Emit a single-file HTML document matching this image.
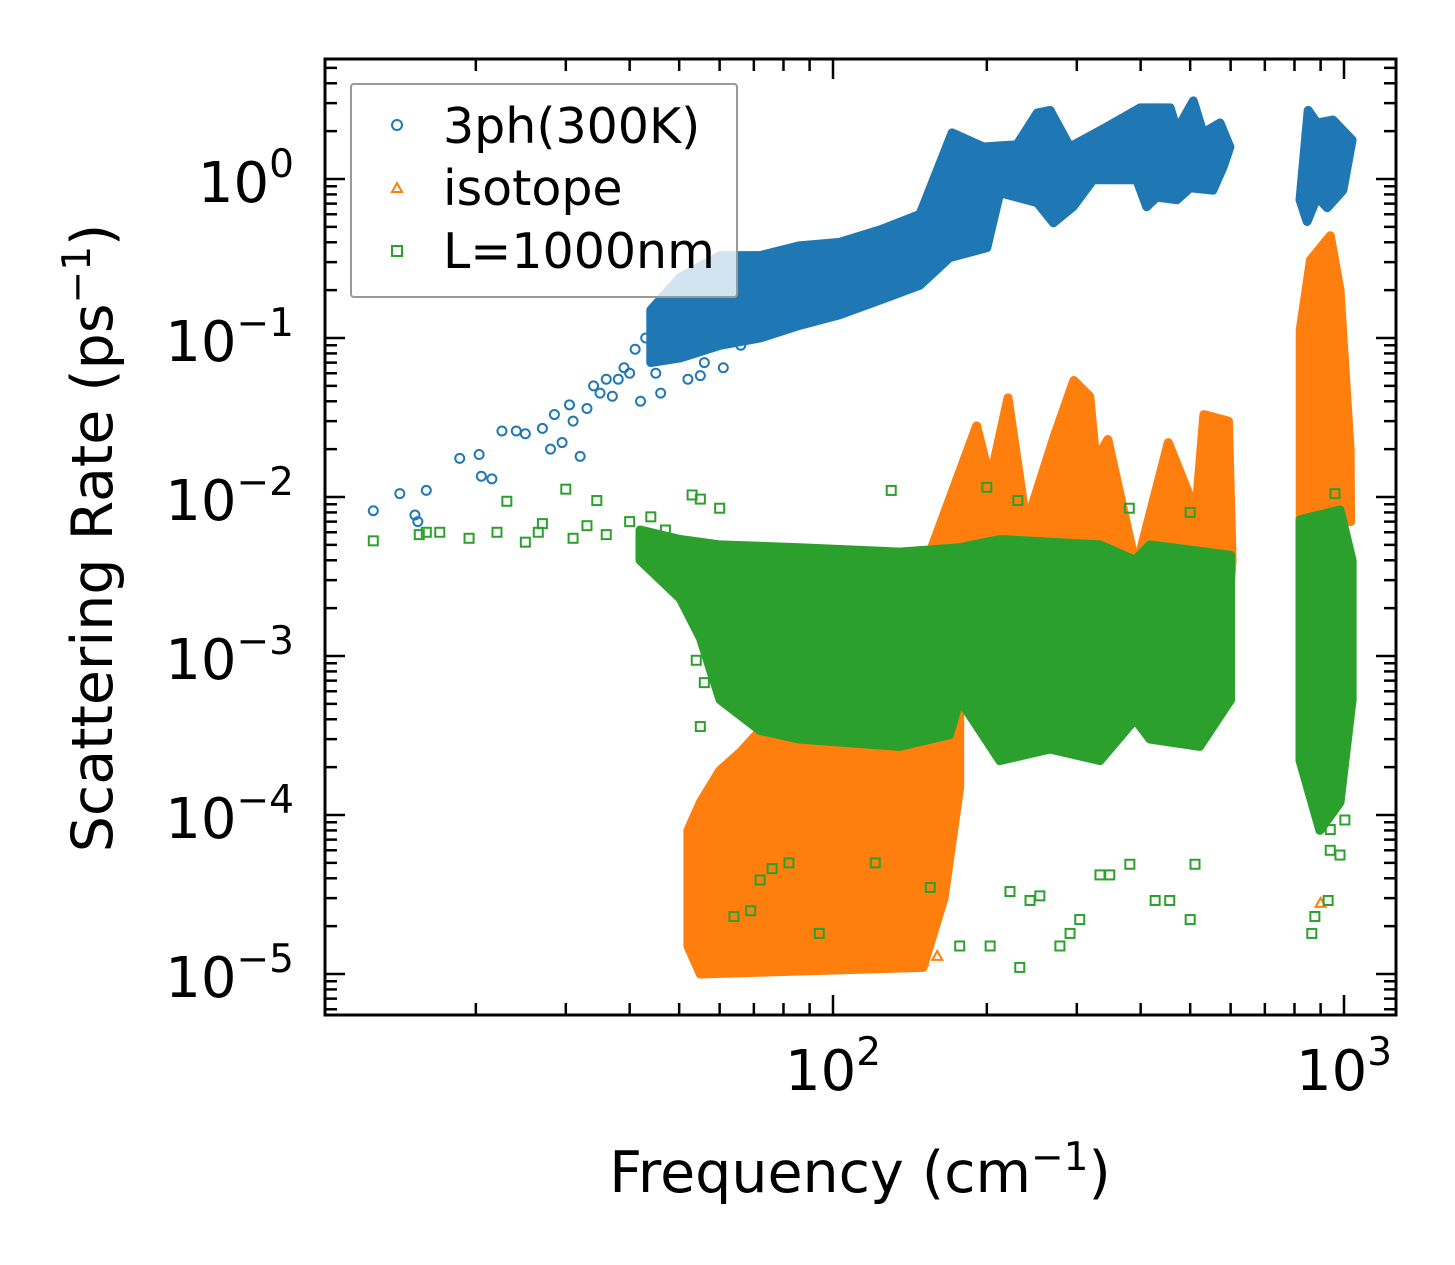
<!DOCTYPE html>
<html><head><meta charset="utf-8"><style>
html,body{margin:0;padding:0;background:#fff;}
svg{display:block;font-family:"DejaVu Sans","Liberation Sans",sans-serif;}
</style></head><body>
<svg id="chart" width="1455" height="1265" viewBox="0 0 1455 1265" xmlns="http://www.w3.org/2000/svg">
<rect x="0" y="0" width="1455" height="1265" fill="#fff"/>
<g id="marks"></g>
<g id="axes"></g>
</svg>
<script>
// ---- data (frequency cm^-1, rate ps^-1) ----
const xTickValues = [100, 1000];
const xTickLabels = ["2", "3"];
const yTickValues = [1, 0.1, 0.01, 0.001, 0.0001, 0.00001];
const yTickLabels = ["0", "\u22121", "\u22122", "\u22123", "\u22124", "\u22125"];

// 3ph dense cloud envelopes (upper edge then lower edge)
const bluePolyF = [44,50.2,60.1,72,86,103,124,148,171,197,229,251,266,291,343,399,457,471,507,530,572,598,580,554,500,471,430,411,393,323,295,270,251,212,200,169,148,124,103,86,72,60.1,50.2,44];
const bluePolyR = [0.15,0.24,0.33,0.33,0.38,0.40,0.48,0.60,1.95,1.59,1.64,2.6,2.7,1.59,2.12,2.8,2.8,2.03,3.1,1.95,2.25,1.59,1.19,0.85,0.88,0.74,0.77,0.67,0.99,0.99,0.67,0.53,0.71,0.82,0.37,0.32,0.215,0.174,0.14,0.12,0.10,0.09,0.075,0.07];
const blueClusterF = [820,851,886,951,1037,995,927,886,847];
const blueClusterR = [0.74,2.7,2.25,2.35,1.76,0.85,0.66,0.77,0.54];
const blueSparseF = [12.6,14.2,15.2,15.4,16,18.6,20.3,20.5,21.5,22.5,24,25,27,28,28.5,29.5,30.5,31,32,33,34,35,36,38,40,42,45,48,55,58,63,37,39,41,43,46,52,56,61,66,70];
const blueSparseR = [0.0082,0.0105,0.0077,0.0070,0.011,0.0175,0.0185,0.0135,0.013,0.026,0.026,0.025,0.027,0.020,0.033,0.022,0.038,0.030,0.018,0.036,0.050,0.045,0.055,0.055,0.060,0.040,0.06,0.09,0.058,0.21,0.22,0.043,0.065,0.085,0.1,0.045,0.055,0.07,0.065,0.09,0.1];

// isotope envelopes
const orangeLowF = [52,55,60,66,72,86,103,124,148,177,177,165,150,55,52];
const orangeLowR = [8e-5,1.2e-4,1.9e-4,2.5e-4,3.4e-4,5.3e-4,4e-4,3.4e-4,5.3e-4,1.3e-3,1.5e-4,3e-5,1.1e-5,1.0e-5,1.5e-5];
const orangeHighF = [156,191,203,220,239,271,296,318,327,345,392,453,513,532,594,604,600,156];
const orangeHighR = [4.8e-3,0.028,0.0128,0.042,0.0068,0.024,0.054,0.043,0.017,0.023,0.0036,0.022,0.0081,0.033,0.030,0.004,0.003,0.003];
const orangeClusterF = [821,860,940,982,1028,1030,821];
const orangeClusterR = [0.112,0.31,0.44,0.20,0.02,0.007,0.007];
const orangeSparseF = [54,56,58,150,160,900,960,1000];
const orangeSparseR = [7e-5,5e-5,2e-5,1.2e-5,1.3e-5,2.8e-5,1.1e-3,1.2e-3];

// L=1000nm envelopes
const greenPolyF = [41.9,50.2,60.1,86,135,177,212,333,390,417,600,600,522,417,390,333,266,212,177,169,135,86,72,60.1,55,50.2,41.9];
const greenPolyR = [0.0062,0.0054,0.005,0.0048,0.0045,0.0048,0.0054,0.005,0.004,0.005,0.0043,5.3e-4,2.7e-4,3e-4,4e-4,2.2e-4,2.6e-4,2.2e-4,5.3e-4,3.2e-4,2.7e-4,3e-4,3.4e-4,5.3e-4,1.3e-3,2.3e-3,0.004];
const greenClusterF = [820,982,1037,1037,982,897,820];
const greenClusterR = [0.0072,0.0083,0.004,5.3e-4,1.2e-4,8e-5,2.2e-4];
const greenSparseF = [12.6,15.5,16,17,19.4,22,23,25,26.5,27,30,31,33,34.5,36,40,44,47,53,55,60,130,200,230,380,500,960,
  55,56,54,64,69,72,76,82,94,121,155,177,203,222,232,243,254,278,291,304,333,348,381,427,456,500,511,877,865,931,940,982,940,1004];
const greenSparseR = [0.0053,0.0058,0.0060,0.0060,0.0055,0.006,0.0094,0.0052,0.006,0.0068,0.0112,0.0055,0.0066,0.0095,0.0058,0.0070,0.0075,0.0062,0.0103,0.0097,0.0085,0.0110,0.0115,0.0095,0.0085,0.0080,0.0105,
  3.6e-4,6.8e-4,9.4e-4,2.3e-5,2.5e-5,3.9e-5,4.6e-5,5.0e-5,1.8e-5,5.0e-5,3.5e-5,1.5e-5,1.5e-5,3.3e-5,1.1e-5,2.9e-5,3.1e-5,1.5e-5,1.8e-5,2.2e-5,4.2e-5,4.2e-5,4.9e-5,2.9e-5,2.9e-5,2.2e-5,4.9e-5,2.3e-5,1.8e-5,2.9e-5,6.0e-5,5.6e-5,8.1e-5,9.3e-5];

// ---- scales ----
const X0 = 325, X1 = 1396, Y0 = 59, Y1 = 1015;
function X(f){ return 833 + 511*(Math.log10(f)-2); }
function Y(r){ return 179 - 159*Math.log10(r); }

const NS = "http://www.w3.org/2000/svg";
const marks = document.getElementById('marks');
const axes = document.getElementById('axes');
function mk(tag, parent){ const e = document.createElementNS(NS, tag); parent.appendChild(e); return e; }

const BLUE="#1f77b4", ORANGE="#ff7f0e", GREEN="#2ca02c";

function cloud(F, R, color, name){
  const p = mk('polygon', marks);
  p.setAttribute('points', F.map((f,i)=>X(f).toFixed(1)+','+Y(R[i]).toFixed(1)).join(' '));
  p.setAttribute('fill', color);
  p.setAttribute('stroke', color);
  p.setAttribute('stroke-width', '9');
  p.setAttribute('stroke-linejoin', 'round');
  
  
}
function circles(F, R, color){
  F.forEach((f,i)=>{
    const c = mk('circle', marks);
    c.setAttribute('cx', X(f)); c.setAttribute('cy', Y(R[i])); c.setAttribute('r', 4.5);
    c.setAttribute('fill','none'); c.setAttribute('stroke', color); c.setAttribute('stroke-width','2');
    
    
  });
}
function squares(F, R, color){
  F.forEach((f,i)=>{
    const s = mk('rect', marks);
    s.setAttribute('x', X(f)-4.5); s.setAttribute('y', Y(R[i])-4.5); s.setAttribute('width', 9); s.setAttribute('height', 9);
    s.setAttribute('fill','none'); s.setAttribute('stroke', color); s.setAttribute('stroke-width','2');
    
    
  });
}
function triangles(F, R, color){
  F.forEach((f,i)=>{
    const x = X(f), y = Y(R[i]);
    const t = mk('polygon', marks);
    t.setAttribute('points', `${x},${y-5} ${x-5},${y+4} ${x+5},${y+4}`);
    t.setAttribute('fill','none'); t.setAttribute('stroke', color); t.setAttribute('stroke-width','2');
    
    
  });
}

cloud(bluePolyF, bluePolyR, BLUE, '3ph-cloud');
cloud(blueClusterF, blueClusterR, BLUE, '3ph-cloud-high');
circles(blueSparseF, blueSparseR, BLUE);
cloud(orangeLowF, orangeLowR, ORANGE, 'isotope-cloud-low');
cloud(orangeHighF, orangeHighR, ORANGE, 'isotope-cloud-mid');
cloud(orangeClusterF, orangeClusterR, ORANGE, 'isotope-cloud-high');
triangles(orangeSparseF, orangeSparseR, ORANGE);
cloud(greenPolyF, greenPolyR, GREEN, 'l1000nm-cloud');
cloud(greenClusterF, greenClusterR, GREEN, 'l1000nm-cloud-high');
squares(greenSparseF, greenSparseR, GREEN);

// ---- ticks ----
function line(x1,y1,x2,y2,w,parent,name){
  const l = mk('line', parent);
  l.setAttribute('x1',x1); l.setAttribute('y1',y1); l.setAttribute('x2',x2); l.setAttribute('y2',y2);
  l.setAttribute('stroke','#000'); l.setAttribute('stroke-width',w);
  
  
}
for (let d=1; d<=3; d++){
  for (let k=1; k<=9; k++){
    const v = k*Math.pow(10,d);
    const x = X(v);
    if (x < X0+1 || x > X1-1) continue;
    const len = k===1 ? 20 : 12;
    line(x, Y1, x, Y1-len, 2.5, axes, 'x-tick');
    line(x, Y0, x, Y0+len, 2.5, axes, 'x-tick-top');
  }
}
for (let d=-6; d<=0; d++){
  for (let k=1; k<=9; k++){
    const v = k*Math.pow(10,d);
    const y = Y(v);
    if (y < Y0+1 || y > Y1-1) continue;
    const len = k===1 ? 20 : 12;
    line(X0, y, X0+len, y, 2.5, axes, 'y-tick');
    line(X1, y, X1-len, y, 2.5, axes, 'y-tick-right');
  }
}
const fr = mk('rect', axes);
fr.setAttribute('x',X0); fr.setAttribute('y',Y0); fr.setAttribute('width',X1-X0); fr.setAttribute('height',Y1-Y0);
fr.setAttribute('fill','none'); fr.setAttribute('stroke','#000'); fr.setAttribute('stroke-width','3');



xTickValues.forEach((v,i)=>{
  const t = mk('text', axes);
  t.setAttribute('x', X(v)); t.setAttribute('y', 1090); t.setAttribute('text-anchor','middle');
  t.setAttribute('font-size','56');
  
  
  t.innerHTML = '10<tspan dy="-25" font-size="39">'+xTickLabels[i]+'</tspan>';
});
yTickValues.forEach((v,i)=>{
  const t = mk('text', axes);
  t.setAttribute('x', 294); t.setAttribute('y', Y(v)+23); t.setAttribute('text-anchor','end');
  t.setAttribute('font-size','56');
  
  
  t.innerHTML = '10<tspan dy="-25" font-size="39">'+yTickLabels[i]+'</tspan>';
});
</script>
<svg style="position:absolute;left:0;top:0" width="1455" height="1265" viewBox="0 0 1455 1265" xmlns="http://www.w3.org/2000/svg" font-family="DejaVu Sans, Liberation Sans, sans-serif">
  <text x="860" y="1192" text-anchor="middle" font-size="57">Frequency (cm<tspan dy="-22" font-size="39">−1</tspan><tspan dy="22">)</tspan></text>
  <text transform="translate(112,538) rotate(-90)" text-anchor="middle" font-size="57">Scattering Rate (ps<tspan dy="-22" font-size="39">−1</tspan><tspan dy="22">)</tspan></text>
  <g>
    <rect x="351" y="84" width="386" height="213" rx="3" fill="#fff" fill-opacity="0.8" stroke="#999" stroke-width="2"/>
    <g>
      <circle cx="397" cy="125" r="5" fill="none" stroke="#1f77b4" stroke-width="2"/>
      <text x="443" y="143" font-size="49">3ph(300K)</text>
    </g>
    <g>
      <polygon points="397,183 392,192 402,192" fill="none" stroke="#ff7f0e" stroke-width="2"/>
      <text x="443" y="205" font-size="49">isotope</text>
    </g>
    <g>
      <rect x="392" y="246" width="10" height="10" fill="none" stroke="#2ca02c" stroke-width="2"/>
      <text x="443" y="268" font-size="49">L=1000nm</text>
    </g>
  </g>
</svg>
</body></html>
